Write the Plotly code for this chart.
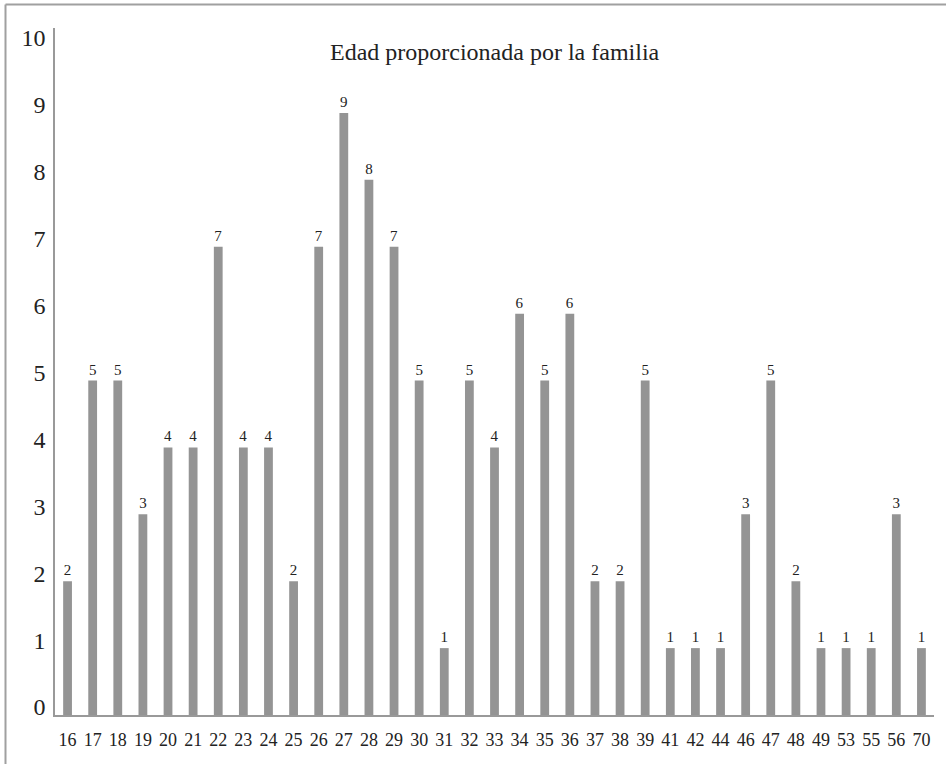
import plotly.graph_objects as go

edades = ["16", "17", "18", "19", "20", "21", "22", "23", "24", "25", "26", "27",
          "28", "29", "30", "31", "32", "33", "34", "35", "36", "37", "38", "39",
          "41", "42", "44", "46", "47", "48", "49", "53", "55", "56", "70"]
frecuencia = [2, 5, 5, 3, 4, 4, 7, 4, 4, 2, 7, 9,
              8, 7, 5, 1, 5, 4, 6, 5, 6, 2, 2, 5,
              1, 1, 1, 3, 5, 2, 1, 1, 1, 3, 1]
titulo = "Edad proporcionada por la familia"
y_ticks = list(range(0, 11))

W, H = 946, 764
L, R, T, B = 55, 12, 28, 49
pw, ph = W - L - R, H - T - B

SERIF = "Liberation Serif, Times New Roman, serif"
TXT = "#222222"
GRAY = "#999999"

fig = go.Figure(go.Bar(
    x=edades, y=frecuencia,
    marker=dict(color="#949494", line=dict(width=0)),
    text=[str(v) for v in frecuencia],
    textposition="outside",
    textfont=dict(family=SERIF, size=15, color=TXT),
    cliponaxis=False,
))

def px_x(px):
    return (px - L) / pw

def px_y(py):
    return (H - B - py) / ph

fig.update_layout(
    width=W, height=H,
    margin=dict(l=L, r=R, t=T, b=B, pad=0),
    paper_bgcolor="white", plot_bgcolor="white",
    showlegend=False,
    bargap=0.65,
    font=dict(family=SERIF, color=TXT),
    xaxis=dict(
        type="category",
        showgrid=False, zeroline=False,
        showline=True, linecolor=GRAY, linewidth=1.5,
        ticks="", tickfont=dict(family=SERIF, size=18, color=TXT),
        ticklabelstandoff=8,
    ),
    yaxis=dict(
        range=[0, 10.27],
        tickvals=y_ticks,
        showgrid=False, zeroline=False,
        showline=True, linecolor=GRAY, linewidth=1.5,
        ticks="", tickfont=dict(family=SERIF, size=24, color=TXT),
        ticklabelstandoff=3,
        ticklabelshift=-8,
    ),
    annotations=[dict(
        text=titulo, xref="paper", yref="paper",
        x=0.5, y=px_y(52), xanchor="center", yanchor="middle",
        showarrow=False, font=dict(family=SERIF, size=24, color=TXT),
    )],
    shapes=[
        dict(type="line", xref="paper", yref="paper",
             x0=px_x(5.5), x1=px_x(W), y0=px_y(4.5), y1=px_y(4.5),
             line=dict(color="#a0a0a0", width=2)),
        dict(type="line", xref="paper", yref="paper",
             x0=px_x(5.5), x1=px_x(5.5), y0=px_y(4.5), y1=px_y(H),
             line=dict(color="#a0a0a0", width=2)),
    ],
)

fig.write_html(
    "out.html",
    config={"displayModeBar": False},
    post_script="document.body.style.margin='0';document.body.style.overflow='hidden';",
)
